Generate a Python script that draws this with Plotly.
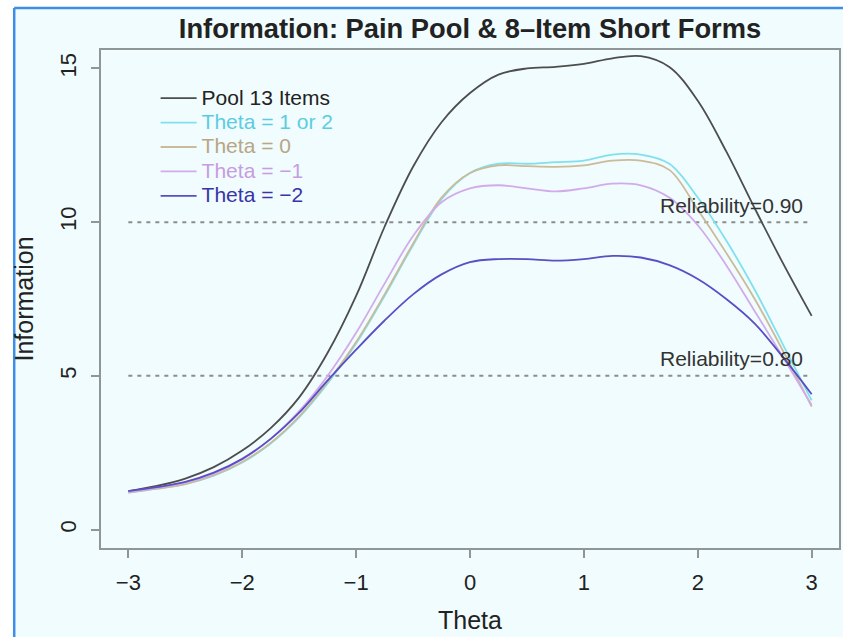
import plotly.graph_objects as go

theta = [-3, -2.75, -2.5, -2.25, -2, -1.75, -1.5, -1.25, -1, -0.75, -0.5, -0.25,
         0, 0.25, 0.5, 0.75, 1, 1.25, 1.5, 1.75, 2, 2.25, 2.5, 2.75, 3]

pool13 = [1.25, 1.42, 1.66, 2.03, 2.57, 3.3, 4.3, 5.75, 7.6, 9.85, 11.8, 13.25,
          14.2, 14.8, 15.0, 15.05, 15.15, 15.33, 15.4, 15.05, 13.95, 12.3, 10.45, 8.65, 6.95]
theta_1_2 = [1.2, 1.33, 1.48, 1.75, 2.18, 2.8, 3.65, 4.75, 6.05, 7.6, 9.25, 10.75,
             11.6, 11.9, 11.9, 11.95, 12.0, 12.2, 12.2, 11.9, 10.8, 9.4, 7.8, 6.0, 4.2]
theta_0 = [1.2, 1.33, 1.48, 1.77, 2.2, 2.82, 3.68, 4.8, 6.1, 7.65, 9.3, 10.8,
           11.6, 11.85, 11.82, 11.8, 11.85, 12.0, 12.0, 11.7, 10.4, 9.0, 7.5, 5.8, 4.0]
theta_m1 = [1.22, 1.36, 1.53, 1.82, 2.28, 2.95, 3.85, 5.0, 6.4, 8.0, 9.55, 10.65,
            11.1, 11.2, 11.1, 11.0, 11.1, 11.25, 11.2, 10.8, 9.9, 8.6, 7.1, 5.6, 4.05]
theta_m2 = [1.25, 1.38, 1.55, 1.85, 2.3, 2.95, 3.8, 4.85, 5.85, 6.8, 7.65, 8.3,
            8.7, 8.8, 8.8, 8.75, 8.8, 8.9, 8.85, 8.6, 8.15, 7.5, 6.7, 5.6, 4.4]

series_names = ["Pool 13 Items", "Theta = 1 or 2", "Theta = 0", "Theta = \u22121", "Theta = \u22122"]
series_values = [pool13, theta_1_2, theta_0, theta_m1, theta_m2]
line_colors = ["#4d4d4d", "#80e0ee", "#cbbb98", "#d2abea", "#5a4ec4"]
text_colors = ["#222222", "#5ccde0", "#b8a684", "#c89ce0", "#3a34a8"]

ref_x = [-3, 3]
ref_levels = [10, 5]
ref_labels = ["Reliability=0.90", "Reliability=0.80"]
ref_label_x = 2.3
ref_label_offset = 0.55

x_ticks = [-3, -2, -1, 0, 1, 2, 3]
y_ticks = [0, 5, 10, 15]

BG = "#f0fcfd"
FONT = "Liberation Sans, Arial, Helvetica, sans-serif"

fig = go.Figure()

for lvl in ref_levels:
    fig.add_trace(go.Scatter(x=ref_x, y=[lvl, lvl], mode="lines", showlegend=False,
                             hoverinfo="skip",
                             line=dict(color="#8c8c8c", width=2, dash="4px,5px")))

for name, vals, lc, tc in zip(series_names, series_values, line_colors, text_colors):
    fig.add_trace(go.Scatter(
        x=theta, y=vals, mode="lines",
        name=f'<span style="color:{tc};font-size:21px">{name}</span>',
        line=dict(color=lc, width=1.8, shape="spline", smoothing=1.0)))

for lvl, lab in zip(ref_levels, ref_labels):
    fig.add_annotation(x=ref_label_x, y=lvl + ref_label_offset, text=lab, showarrow=False,
                       xanchor="center", yanchor="middle",
                       font=dict(family=FONT, size=21, color="#333333"))

# page frame (blue border + light background)
fig.add_shape(type="rect", xref="paper", yref="paper", x0=-0.1176, x1=1.02, y0=-0.2, y1=1.0843,
              fillcolor=BG, line=dict(width=0), layer="below")
fig.add_shape(type="line", xref="paper", yref="paper", x0=-0.1176, x1=-0.1176, y0=-0.2, y1=1.0843,
              line=dict(color="#3d8ee6", width=2.5))
fig.add_shape(type="line", xref="paper", yref="paper", x0=-0.1176, x1=1.02, y0=1.0843, y1=1.0843,
              line=dict(color="#3d8ee6", width=2.5))

axis_common = dict(showgrid=False, zeroline=False, showline=True, mirror=True,
                   linecolor="#8f9696", linewidth=1.5, ticks="outside", ticklen=8,
                   tickwidth=1.5, tickcolor="#8f9696", ticklabelstandoff=6,
                   tickfont=dict(family=FONT, size=22, color="#222222"))

fig.update_layout(
    width=843, height=637,
    margin=dict(l=101, r=2, t=50, b=89),
    paper_bgcolor="white", plot_bgcolor=BG,
    font=dict(family=FONT, color="#222222"),
    title=dict(text="<b>Information: Pain Pool & 8\u2013Item Short Forms</b>",
               x=0.5, xref="paper", xanchor="center",
               y=1 - 28 / 637, yref="container", yanchor="middle",
               font=dict(family=FONT, size=27.3, color="#222222")),
    xaxis=dict(range=[-3.24, 3.24], tickvals=x_ticks,
               title=dict(text="Theta", font=dict(family=FONT, size=25), standoff=17),
               **axis_common),
    yaxis=dict(range=[-0.6, 15.6], tickvals=y_ticks, tickangle=-90,
               title=dict(text="Information", font=dict(family=FONT, size=25), standoff=16),
               **axis_common),
    legend=dict(x=0.074, y=0.938, xanchor="left", yanchor="top",
                bgcolor="rgba(0,0,0,0)", borderwidth=0,
                font=dict(family=FONT, size=16.5), itemwidth=36,
                traceorder="normal"),
    showlegend=True,
)

fig.write_html("out.html", config={"displayModeBar": False},
               post_script="document.body.style.margin='0';document.body.style.overflow='hidden';")
